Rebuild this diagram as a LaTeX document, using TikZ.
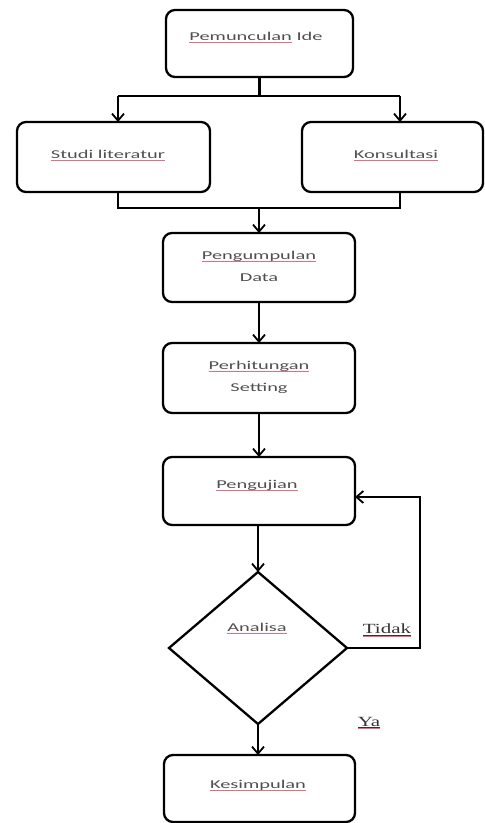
\documentclass[tikz,border=0pt]{standalone}
\usepackage{fontspec}
\usetikzlibrary{arrows.meta,shapes.geometric}
\newfontfamily\boxfont[FakeStretch=1.7]{Carlito}
\newfontfamily\lblfont[FakeStretch=1.5]{Liberation Serif}
\definecolor{txtgray}{HTML}{505050}
\definecolor{squig}{HTML}{E07080}
\newcommand\redul[1]{\leavevmode\setbox0\hbox{#1}\rlap{\textcolor{squig}{\rule[-2pt]{\wd0}{0.6pt}}}\box0\relax}
\newcommand\blkul[1]{\leavevmode\setbox0\hbox{#1}\rlap{\rule[-2pt]{\wd0}{0.8pt}}\rlap{\textcolor{squig}{\rule[-3pt]{\wd0}{0.6pt}}}\box0\relax}
\begin{document}
\begin{tikzpicture}[x=1pt,y=-1pt,line width=2.3pt,
  box/.style={draw,rounded corners=9pt,line width=2.3pt,inner sep=0pt,outer sep=0pt},
  txt/.style={font=\boxfont\fontsize{12}{22}\selectfont,text=txtgray,align=center,inner sep=0pt},
  lbl/.style={font=\lblfont\fontsize{14}{16}\selectfont,text=black!80,inner sep=0pt},
  arr/.style={-{Straight Barb[length=7pt,width=12pt,line width=1.8pt]}}]
\useasboundingbox (0,0) rectangle (485,823);
% boxes
\node[box,minimum width=187pt,minimum height=67pt] (ide) at (259.5,43.5) {};
\node[txt] (tide) at (256,37) {\redul{Pemunculan} Ide};
\node[box,minimum width=193pt,minimum height=70pt] (studi) at (113.5,157) {};
\node[txt] (tstudi) at (108,155) {\redul{Studi literatur}};
\node[box,minimum width=181pt,minimum height=70pt] (kons) at (392.5,157) {};
\node[txt] (tkons) at (396,155) {\redul{Konsultasi}};
\node[box,minimum width=192pt,minimum height=69pt] (data) at (259,267.5) {};
\node[txt] (tdata) at (259,266) {\redul{Pengumpulan}\\Data};
\node[box,minimum width=192pt,minimum height=70pt] (hit) at (259,378) {};
\node[txt] (thit) at (259,377) {\redul{Perhitungan}\\Setting};
\node[box,minimum width=192pt,minimum height=68pt] (uji) at (259,491) {};
\node[txt] (tuji) at (257,485) {\redul{Pengujian}};
\node[diamond,draw,line width=2.3pt,minimum width=178pt,minimum height=152pt,inner sep=0pt,outer sep=0pt] (ana) at (258,648) {};
\node[txt] (tana) at (257,628) {\redul{Analisa}};
\node[box,minimum width=191pt,minimum height=67pt] (kes) at (259.5,788.5) {};
\node[txt] (tkes) at (258,785) {\redul{Kesimpulan}};
\node[lbl] (tidak) at (387,630) {\blkul{Tidak}};
\node[lbl] (ya) at (369,723) {\blkul{Ya}};
% connectors
\coordinate (s1) at (259,96);
\coordinate (bl) at (118,96);
\coordinate (br) at (400,96);
\draw (ide.south) -- (ide.south |- s1);
\draw (bl) -- (br);
\draw[arr] (bl) -- (bl |- studi.north);
\draw[arr] (br) -- (br |- kons.north);
\coordinate (jl) at (118,208);
\coordinate (jr) at (400,208);
\draw (jl |- studi.south) -- (jl) -- (jr) -- (jr |- kons.south);
\draw[arr] (data.north |- jl) -- (data.north);
\draw[arr] (data.south) -- (hit.north);
\draw[arr] (hit.south) -- (uji.north);
\draw[arr] (ana.north |- uji.south) -- (ana.north);
\draw[arr] (ana.south) -- (ana.south |- kes.north);
\coordinate (fb) at (420,497);
\draw[arr] (ana.east) -- (ana.east -| fb) -- (fb) -- (fb -| uji.east);
\end{tikzpicture}
\end{document}
